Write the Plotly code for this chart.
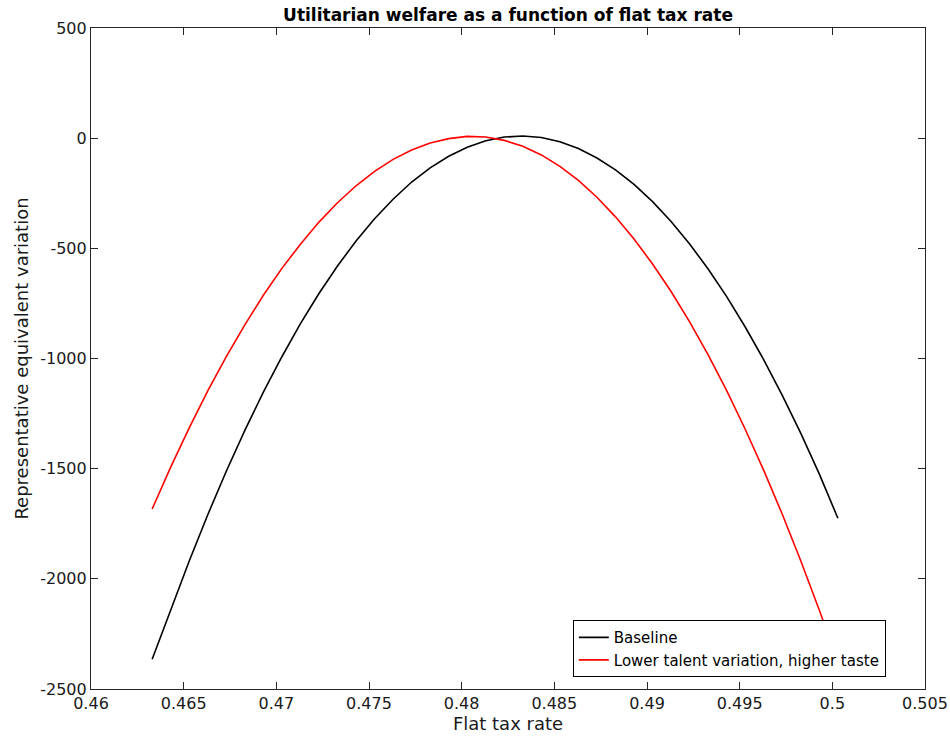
import plotly.graph_objects as go

# Flat tax rates evaluated (step 0.001)
tax_rate = [0.4633, 0.4643, 0.4653, 0.4663, 0.4673, 0.4683, 0.4693, 0.4703,
            0.4713, 0.4723, 0.4733, 0.4743, 0.4753, 0.4763, 0.4773, 0.4783,
            0.4793, 0.4803, 0.4813, 0.4823, 0.4833, 0.4843, 0.4853, 0.4863,
            0.4873, 0.4883, 0.4893, 0.4903, 0.4913, 0.4923, 0.4933, 0.4943,
            0.4953, 0.4963, 0.4973, 0.4983, 0.4993, 0.5003]

# Representative equivalent variation, baseline calibration
baseline = [-2365, -2140, -1919, -1709, -1512, -1326, -1153, -992,
            -842, -705, -580, -467, -366, -277, -199, -135,
            -82, -41, -12, 5, 10, 3, -16, -47,
            -90, -144, -210, -288, -378, -480, -594, -719,
            -857, -1006, -1167, -1340, -1525, -1725]

# Lower talent variation, higher taste
alt = [-1683, -1493, -1315, -1147, -991, -847, -713, -591,
       -481, -381, -293, -216, -151, -96, -54, -22,
       -2, 8, 5, -10, -37, -76, -128, -192,
       -268, -357, -458, -571, -696, -834, -984, -1146,
       -1321, -1508, -1707, -1919, -2143, -2379]

x_ticks = [0.46, 0.465, 0.47, 0.475, 0.48, 0.485, 0.49, 0.495, 0.5, 0.505]
x_tick_text = ["0.46", "0.465", "0.47", "0.475", "0.48", "0.485", "0.49", "0.495", "0.5", "0.505"]
y_ticks = [500, 0, -500, -1000, -1500, -2000, -2500]
y_tick_text = ["500", "0", "-500", "-1000", "-1500", "-2000", "-2500"]

FONT = "DejaVu Sans, Liberation Sans, Arial, sans-serif"
AXIS_COLOR = "#262626"

fig = go.Figure()
fig.add_trace(go.Scatter(x=tax_rate, y=baseline, mode="lines", name="Baseline",
                         line=dict(color="#000000", width=1.6)))
fig.add_trace(go.Scatter(x=tax_rate, y=alt, mode="lines",
                         name="Lower talent variation, higher taste",
                         line=dict(color="#ff0000", width=1.6)))

axis_common = dict(
    showline=True, linecolor=AXIS_COLOR, linewidth=1.2, mirror="allticks",
    ticks="inside", ticklen=7, tickwidth=1, tickcolor=AXIS_COLOR,
    showgrid=False, zeroline=False, automargin=False,
    tickfont=dict(family=FONT, size=16, color="#1a1a1a"),
)

fig.update_layout(
    width=950, height=737,
    margin=dict(l=91, r=25, t=28, b=48),
    paper_bgcolor="white", plot_bgcolor="white",
    font=dict(family=FONT, color="#1a1a1a"),
    title=dict(text="<b>Utilitarian welfare as a function of flat tax rate</b>",
               x=0.5, xref="paper", xanchor="center",
               y=1 - 15 / 737, yref="container", yanchor="middle",
               font=dict(family=FONT, size=17, color="#000000")),
    xaxis=dict(range=[0.46, 0.505], tickvals=x_ticks, ticktext=x_tick_text,
               title=dict(text="Flat tax rate", standoff=2,
                          font=dict(family=FONT, size=18, color="#1a1a1a")),
               **axis_common),
    yaxis=dict(range=[-2500, 500], tickvals=y_ticks, ticktext=y_tick_text,
               title=dict(text="Representative equivalent variation", standoff=6,
                          font=dict(family=FONT, size=18, color="#1a1a1a")),
               **axis_common),
    legend=dict(x=0.953, y=0.018, xanchor="right", yanchor="bottom",
                bgcolor="white", bordercolor="#000000", borderwidth=1,
                font=dict(family=FONT, size=15, color="#000000"),
                tracegroupgap=0, itemwidth=30),
    showlegend=True,
)

fig.write_html("out.html")
